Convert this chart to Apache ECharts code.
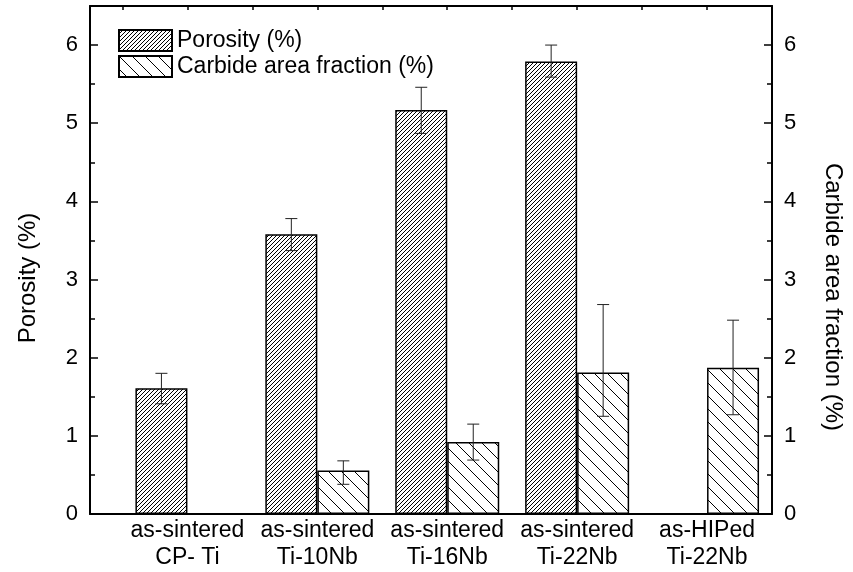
<!DOCTYPE html>
<html>
<head>
<meta charset="utf-8">
<script src="https://cdn.jsdelivr.net/npm/echarts@6/dist/echarts.min.js"></script>
<style>
  html, body { margin: 0; padding: 0; background: #fff; }
  #chart { width: 853px; height: 572px; }
</style>
</head>
<body>
<div id="chart"></div>
<script>
// Sample groups (x positions 1..5 on the bottom axis)
const categories = [
  'as-sintered\nCP- Ti',
  'as-sintered\nTi-10Nb',
  'as-sintered\nTi-16Nb',
  'as-sintered\nTi-22Nb',
  'as-HIPed\nTi-22Nb'
];
const categoryPositions = [1, 2, 3, 4, 5];

// Porosity (%) with error-bar bounds
const porosity     = [1.61, 3.58, 5.17, 5.79, null];
const porosityLow  = [1.41, 3.37, 4.87, 5.59, null];
const porosityHigh = [1.80, 3.78, 5.46, 6.00, null];

// Carbide area fraction (%) with error-bar bounds
const carbide     = [null, 0.555, 0.92, 1.81, 1.87];
const carbideLow  = [null, 0.38, 0.69, 1.25, 1.27];
const carbideHigh = [null, 0.68, 1.15, 2.68, 2.48];

// Axis tick values
const yTicks = [0, 1, 2, 3, 4, 5, 6];

const FONT = 'Liberation Sans, Arial, sans-serif';
const BAR_W = 52;

// Hatch fill tiles
function hatch(size, forward) {
  const c = document.createElement('canvas');
  c.width = size; c.height = size;
  const g = c.getContext('2d');
  g.fillStyle = '#fff';
  g.fillRect(0, 0, size, size);
  g.strokeStyle = '#000';
  g.lineWidth = 1;
  g.beginPath();
  if (forward) {
    g.moveTo(-1, size + 1); g.lineTo(size + 1, -1);
    g.moveTo(-1, 1); g.lineTo(1, -1);
    g.moveTo(size - 1, size + 1); g.lineTo(size + 1, size - 1);
  } else {
    g.moveTo(-1, -1); g.lineTo(size + 1, size + 1);
    g.moveTo(size - 1, -1); g.lineTo(size + 1, 1);
    g.moveTo(-1, size - 1); g.lineTo(1, size + 1);
  }
  g.stroke();
  return c;
}

const porosityFill = { image: hatch(4, true), repeat: 'repeat' };
const carbideFill = { image: hatch(13, false), repeat: 'repeat' };

function pairs(vals) {
  const out = [];
  vals.forEach((v, i) => { if (v !== null) out.push([categoryPositions[i], v]); });
  return out;
}
function errData(low, high) {
  const out = [];
  low.forEach((l, i) => { if (l !== null) out.push([categoryPositions[i], l, high[i]]); });
  return out;
}

function errorBars(side) {
  return function (params, api) {
    const x = api.value(0);
    const lo = api.coord([x, api.value(1)]);
    const hi = api.coord([x, api.value(2)]);
    const px = lo[0] + side * BAR_W / 2;
    const cap = 6;
    const style = { stroke: '#222', lineWidth: 1, fill: null };
    return {
      type: 'group',
      children: [
        { type: 'line', shape: { x1: px, y1: lo[1], x2: px, y2: hi[1] }, style },
        { type: 'line', shape: { x1: px - cap, y1: lo[1], x2: px + cap, y2: lo[1] }, style },
        { type: 'line', shape: { x1: px - cap, y1: hi[1], x2: px + cap, y2: hi[1] }, style }
      ]
    };
  };
}

const yAxisCommon = {
  type: 'value',
  min: yTicks[0],
  max: 6.5,
  interval: 1,
  axisLine: { show: true, lineStyle: { color: '#000', width: 2 } },
  axisTick: { show: true, inside: true, length: 8, lineStyle: { color: '#000', width: 1.5 } },
  minorTick: { show: true, splitNumber: 2, length: 5, lineStyle: { color: '#000', width: 1.5 } },
  splitLine: { show: false },
  axisLabel: {
    showMaxLabel: false,
    fontFamily: FONT, fontSize: 22, color: '#000', margin: 12
  },
  nameLocation: 'middle'
};

const chart = echarts.init(document.getElementById('chart'), null, { renderer: 'canvas' });
chart.setOption({
  animation: false,
  backgroundColor: '#fff',
  grid: { left: 90, right: 81, top: 6, bottom: 58, containLabel: false },
  legend: {
    data: ['Porosity (%)', 'Carbide area fraction (%)'],
    orient: 'vertical',
    left: 118,
    top: 28,
    padding: 0,
    itemWidth: 53,
    itemHeight: 21,
    itemGap: 1,
    icon: 'rect',
    textStyle: { fontFamily: FONT, fontSize: 23, color: '#000', lineHeight: 25 }
  },
  xAxis: [
    {
      type: 'value',
      position: 'bottom',
      min: 0.25,
      max: 5.5,
      minInterval: 1,
      maxInterval: 1,
      axisLine: { show: true, onZero: false, lineStyle: { color: '#000', width: 2 } },
      axisTick: { show: false },
      splitLine: { show: false },
      axisLabel: {
        showMinLabel: false, showMaxLabel: false,
        fontFamily: FONT, fontSize: 23, color: '#000', lineHeight: 27, margin: 3,
        formatter: function (v) {
          const i = categoryPositions.indexOf(v);
          return i >= 0 ? categories[i] : '';
        }
      }
    },
    {
      type: 'value',
      position: 'top',
      min: 0.25,
      max: 5.5,
      splitNumber: 10,
      minInterval: 0.5,
      maxInterval: 0.5,
      axisLine: { show: true, onZero: false, lineStyle: { color: '#000', width: 2 } },
      axisTick: { show: true, inside: true, length: 4, lineStyle: { color: '#000', width: 1.5 } },
      axisLabel: { show: false },
      splitLine: { show: false }
    }
  ],
  yAxis: [
    Object.assign({}, yAxisCommon, {
      position: 'left',
      name: 'Porosity (%)',
      nameGap: 50,
      nameRotate: 90,
      nameTextStyle: { fontFamily: FONT, fontSize: 24, color: '#000', padding: [0, 36, 0, 0] }
    }),
    Object.assign({}, yAxisCommon, {
      position: 'right',
      name: 'Carbide area fraction (%)',
      nameGap: 49,
      nameRotate: -90,
      nameTextStyle: { fontFamily: FONT, fontSize: 24, color: '#000', padding: [0, 0, 0, 74] }
    })
  ],
  series: [
    {
      name: 'Porosity (%)',
      type: 'bar',
      xAxisIndex: 0,
      yAxisIndex: 0,
      barWidth: BAR_W,
      barGap: '0%',
      data: pairs(porosity),
      itemStyle: { color: porosityFill, borderColor: '#000', borderWidth: 1.5 }
    },
    {
      name: 'Carbide area fraction (%)',
      type: 'bar',
      xAxisIndex: 0,
      yAxisIndex: 1,
      barWidth: BAR_W,
      barGap: '0%',
      data: pairs(carbide),
      itemStyle: { color: carbideFill, borderColor: '#000', borderWidth: 1.5 }
    },
    {
      name: 'porosity-error',
      type: 'custom',
      xAxisIndex: 0,
      yAxisIndex: 0,
      z: 10,
      renderItem: errorBars(-1),
      encode: { x: 0, y: [1, 2] },
      data: errData(porosityLow, porosityHigh)
    },
    {
      name: 'carbide-error',
      type: 'custom',
      xAxisIndex: 0,
      yAxisIndex: 1,
      z: 10,
      renderItem: errorBars(1),
      encode: { x: 0, y: [1, 2] },
      data: errData(carbideLow, carbideHigh)
    }
  ]
});
</script>
</body>
</html>
